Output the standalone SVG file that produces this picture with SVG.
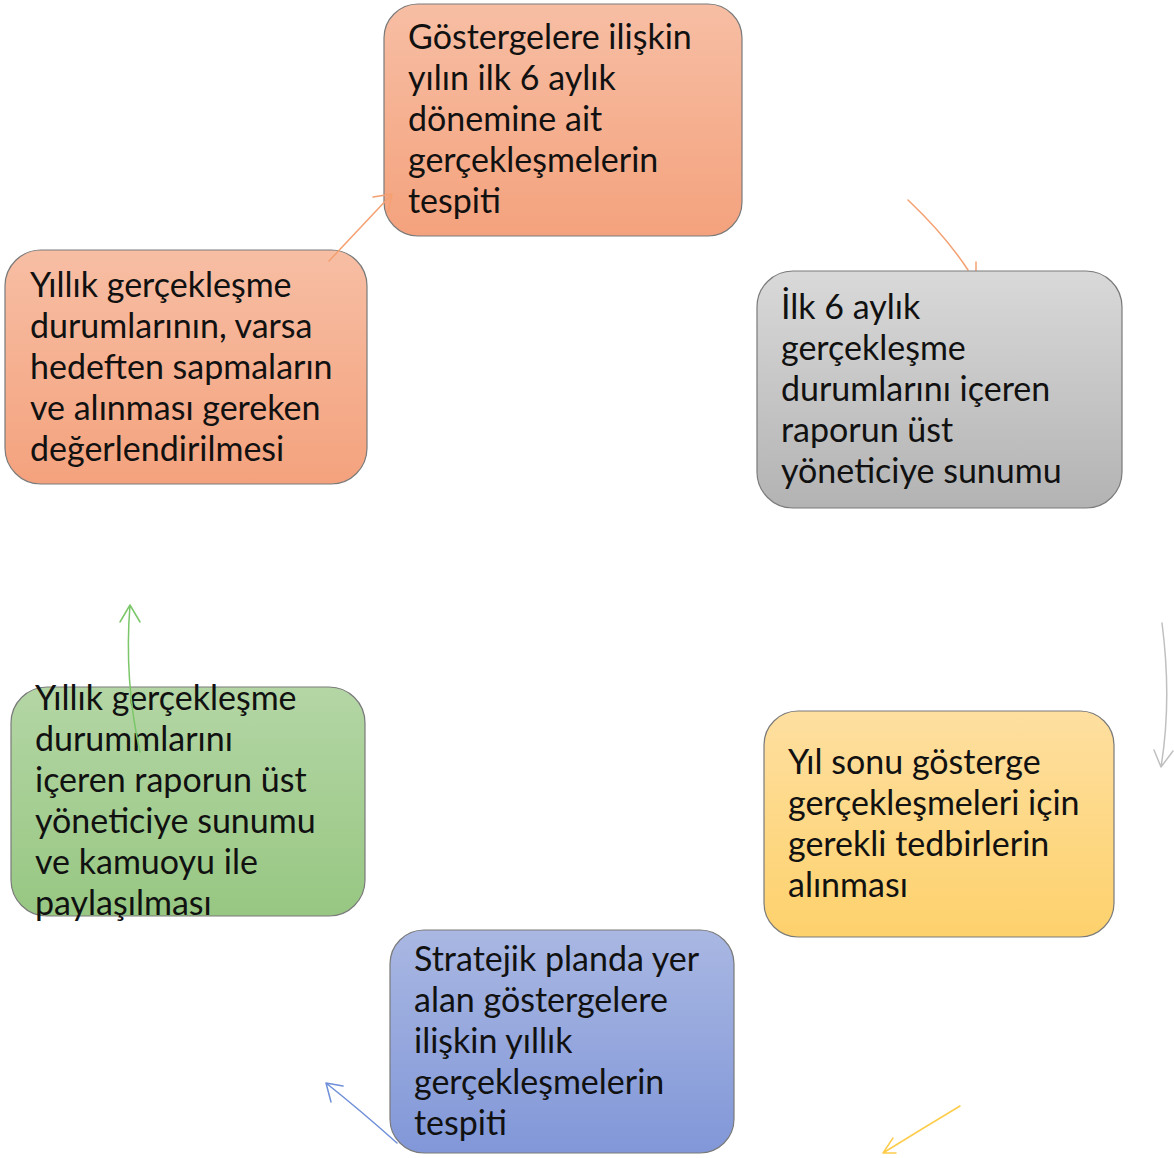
<svg xmlns="http://www.w3.org/2000/svg" width="1174" height="1158" viewBox="0 0 1174 1158">
<defs>
<linearGradient id="gOr" x1="0" y1="0" x2="0" y2="1"><stop offset="0" stop-color="#f7bea4"/><stop offset="1" stop-color="#f4a27d"/></linearGradient>
<linearGradient id="gGr" x1="0" y1="0" x2="0" y2="1"><stop offset="0" stop-color="#d9d9d9"/><stop offset="1" stop-color="#b3b3b3"/></linearGradient>
<linearGradient id="gYe" x1="0" y1="0" x2="0" y2="1"><stop offset="0" stop-color="#fedfa0"/><stop offset="1" stop-color="#fdd16c"/></linearGradient>
<linearGradient id="gBl" x1="0" y1="0" x2="0" y2="1"><stop offset="0" stop-color="#a9b7e2"/><stop offset="1" stop-color="#8197d8"/></linearGradient>
<linearGradient id="gGn" x1="0" y1="0" x2="0" y2="1"><stop offset="0" stop-color="#b4d6a5"/><stop offset="1" stop-color="#97c782"/></linearGradient>
</defs>
<style>
.box{stroke:#7a7a7a;stroke-width:1.2}
.t{font-family:Lato,"Open Sans","DejaVu Sans",sans-serif;font-size:34px;fill:#111}
.c{fill:none;stroke-width:1.5;stroke-linecap:round;stroke-linejoin:round}
</style>
<g id="connectors-under">
<path class="c" stroke="#f4a070" d="M908,200 Q945,235 968,270"/>
<path class="c" stroke="#f4a070" d="M976,262 L976,272"/>
</g>
<g id="n1">
<rect class="box" x="384" y="4" width="358" height="232" rx="34" fill="url(#gOr)"/>
<text class="t"><tspan x="408" y="49">Göstergelere ilişkin</tspan><tspan x="408" y="90">yılın ilk 6 aylık</tspan><tspan x="408" y="131">dönemine ait</tspan><tspan x="408" y="172">gerçekleşmelerin</tspan><tspan x="408" y="213">tespiti</tspan></text>
</g>
<g id="n2">
<rect class="box" x="757" y="271" width="365" height="237" rx="36" fill="url(#gGr)"/>
<text class="t"><tspan x="781" y="319">İlk 6 aylık</tspan><tspan x="781" y="360">gerçekleşme</tspan><tspan x="781" y="401">durumlarını içeren</tspan><tspan x="781" y="442">raporun üst</tspan><tspan x="781" y="483">yöneticiye sunumu</tspan></text>
</g>
<g id="n3">
<rect class="box" x="764" y="711" width="350" height="226" rx="34" fill="url(#gYe)"/>
<text class="t"><tspan x="788" y="774">Yıl sonu gösterge</tspan><tspan x="788" y="815">gerçekleşmeleri için</tspan><tspan x="788" y="856">gerekli tedbirlerin</tspan><tspan x="788" y="897">alınması</tspan></text>
</g>
<g id="n4">
<rect class="box" x="390" y="930" width="344" height="223" rx="34" fill="url(#gBl)"/>
<text class="t"><tspan x="414" y="971">Stratejik planda yer</tspan><tspan x="414" y="1012">alan göstergelere</tspan><tspan x="414" y="1053">ilişkin yıllık</tspan><tspan x="414" y="1094">gerçekleşmelerin</tspan><tspan x="414" y="1135">tespiti</tspan></text>
</g>
<g id="n5">
<rect class="box" x="11" y="687" width="354" height="229" rx="36" fill="url(#gGn)"/>
<text class="t"><tspan x="35" y="710">Yıllık gerçekleşme</tspan><tspan x="35" y="751">durummlarını</tspan><tspan x="35" y="792">içeren raporun üst</tspan><tspan x="35" y="833">yöneticiye sunumu</tspan><tspan x="35" y="874">ve kamuoyu ile</tspan><tspan x="35" y="915">paylaşılması</tspan></text>
</g>
<g id="n6">
<rect class="box" x="5" y="250" width="362" height="234" rx="36" fill="url(#gOr)"/>
<text class="t"><tspan x="30" y="297">Yıllık gerçekleşme</tspan><tspan x="30" y="338">durumlarının, varsa</tspan><tspan x="30" y="379">hedeften sapmaların</tspan><tspan x="30" y="420">ve alınması gereken</tspan><tspan x="30" y="461">değerlendirilmesi</tspan></text>
</g>
<g id="connectors">
<path class="c" stroke="#f4a070" d="M329,261 L392,194 M373,197 L392,194 L388,212"/>
<path class="c" stroke="#c0c0c0" d="M1162,623 Q1172,700 1161,767 M1154,750 L1161,767 L1173,751"/>
<path class="c" stroke="#fdcc4a" d="M960,1106 Q920,1130 883,1153 M893,1138 L883,1153 L896,1153"/>
<path class="c" stroke="#6f8fd8" d="M397,1143 Q360,1110 326,1083 M343,1086 L326,1083 L331,1102"/>
<path class="c" stroke="#7cc66a" d="M140,752 Q124,680 130,605 M120,622 L130,605 L140,622"/>
</g>
</svg>
